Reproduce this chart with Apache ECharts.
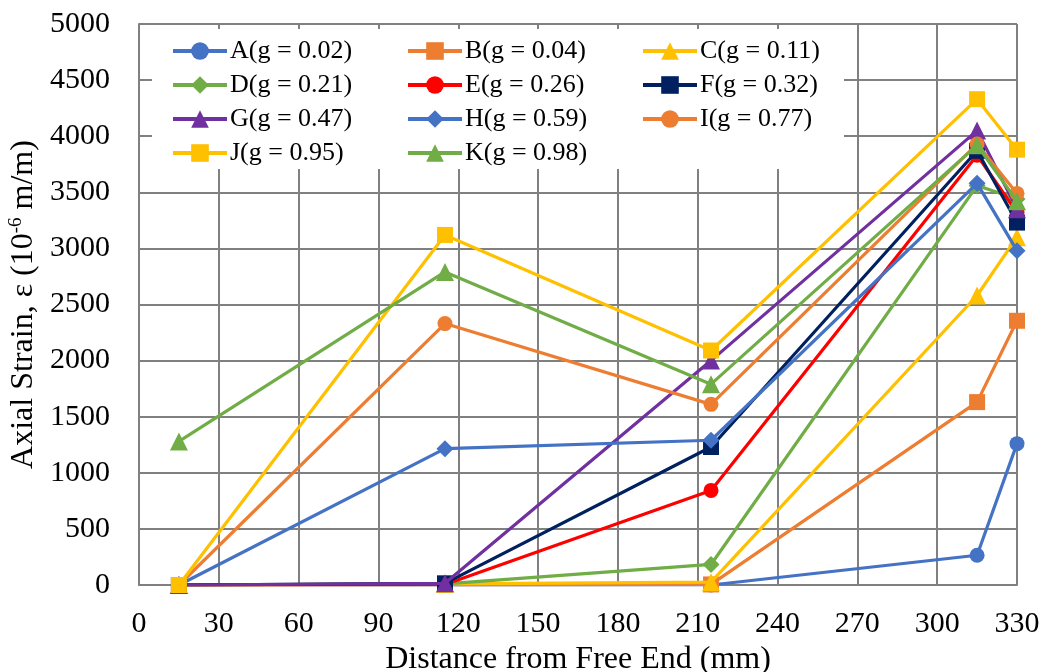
<!DOCTYPE html>
<html><head><meta charset="utf-8">
<script src="https://cdn.jsdelivr.net/npm/echarts@6/dist/echarts.min.js"></script>
<style>html,body{margin:0;padding:0;background:#fff}#c{width:1043px;height:672px}</style>
</head><body><div id="c"></div>
<script>
const xValues = [15, 115, 215, 315, 330];
const names = ['A(g = 0.02)','B(g = 0.04)','C(g = 0.11)','D(g = 0.21)','E(g = 0.26)','F(g = 0.32)','G(g = 0.47)','H(g = 0.59)','I(g = 0.77)','J(g = 0.95)','K(g = 0.98)'];
const sA = [0, 0, 0, 265, 1260];
const sB = [0, 0, 5, 1630, 2355];
const sC = [0, 10, 25, 2580, 3100];
const sD = [0, 10, 183, 3560, 3440];
const sE = [0, 5, 843, 3830, 3320];
const sF = [0, 15, 1230, 3870, 3230];
const sG = [0, 15, 2000, 4050, 3350];
const sH = [0, 1215, 1290, 3580, 2980];
const sI = [0, 2330, 1610, 3930, 3490];
const sJ = [0, 3120, 2090, 4330, 3880];
const sK = [1280, 2790, 1790, 3920, 3420];
const xTicks = {min: 0, max: 330, interval: 30};
const yTicks = {min: 0, max: 5000, interval: 500};

const values = [sA,sB,sC,sD,sE,sF,sG,sH,sI,sJ,sK];
const colors = ['#4472C4','#ED7D31','#FFC000','#70AD47','#FF0000','#002060','#7030A0','#4472C4','#ED7D31','#FFC000','#70AD47'];
const symbols = ['circle','rect','triangle','diamond','circle','rect','triangle','diamond','circle','rect','triangle'];
const symSizes = {circle: 15, rect: 16, triangle: 18, diamond: 17};
const font = 'Liberation Serif';

const series = values.map((v, i) => ({
  name: names[i], type: 'line',
  data: v.map((y, j) => [xValues[j], y]),
  symbol: symbols[i], symbolSize: symSizes[symbols[i]],
  lineStyle: {color: colors[i], width: 3.2},
  itemStyle: {color: colors[i]},
  z: 2 + i * 0.01,
  animation: false
}));

const legendCommon = {
  orient: 'vertical', top: 33, itemWidth: 54, itemHeight: 22, itemGap: 8,
  lineStyle: {width: 4},
  textStyle: {fontFamily: font, fontSize: 26, color: '#000', padding: [0,0,0,-2]},
  z: 10
};
const chart = echarts.init(document.getElementById('c'));
chart.setOption({
  backgroundColor: '#fff',
  animation: false,
  grid: {left: 139, right: 26, top: 24, bottom: 87, outerBoundsMode: 'none', containLabel: false},
  graphic: [{type: 'rect', left: 152, top: 29, shape: {width: 692, height: 140}, style: {fill: '#fff'}, z: 5}],
  legend: [
    Object.assign({left: 166, data: [names[0], names[3], names[6], names[9]]}, legendCommon),
    Object.assign({left: 401, data: [names[1], names[4], names[7], names[10]]}, legendCommon),
    Object.assign({left: 636, data: [names[2], names[5], names[8]]}, legendCommon)
  ],
  xAxis: {
    type: 'value', min: xTicks.min, max: xTicks.max, interval: xTicks.interval,
    name: 'Distance from Free End (mm)', nameLocation: 'middle', nameGap: 57,
    nameTextStyle: {fontFamily: font, fontSize: 32, color: '#000'},
    axisLine: {lineStyle: {color: '#808080', width: 2}},
    axisTick: {show: false},
    axisLabel: {fontFamily: font, fontSize: 30, color: '#000', margin: 24},
    splitLine: {lineStyle: {color: '#808080', width: 2}}
  },
  yAxis: {
    type: 'value', min: yTicks.min, max: yTicks.max, interval: yTicks.interval,
    name: 'Axial Strain, ε (10{sup|-6} m/m)', nameLocation: 'middle', nameGap: 97, nameRotate: 90,
    nameTextStyle: {fontFamily: font, fontSize: 32, color: '#000',
      rich: {sup: {fontFamily: font, fontSize: 19, color: '#000', verticalAlign: 'top', padding: [0,0,14,0]}}},
    axisLine: {show: true, lineStyle: {color: '#808080', width: 2}},
    axisTick: {show: false},
    axisLabel: {fontFamily: font, fontSize: 30, color: '#000', margin: 29, formatter: v => String(v)},
    splitLine: {lineStyle: {color: '#808080', width: 2}}
  },
  series: series
});
</script></body></html>
